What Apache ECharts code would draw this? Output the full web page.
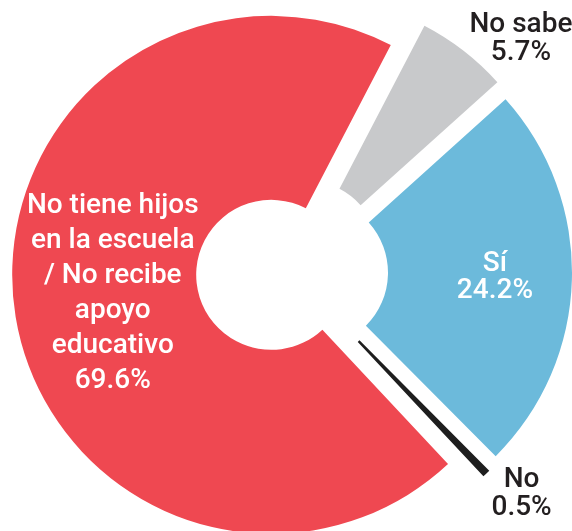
<!DOCTYPE html>
<html>
<head>
<meta charset="utf-8">
<script src="https://cdn.jsdelivr.net/npm/echarts@6/dist/echarts.min.js"></script>
<style>
html, body { margin: 0; padding: 0; background: #ffffff; }
#chart { width: 572px; height: 531px; }
</style>
</head>
<body>
<div id="chart"></div>
<script>
// Data
const categories = ['No sabe', 'Sí', 'No', 'No tiene hijos en la escuela / No recibe apoyo educativo'];
const labelNames = ['No sabe', 'Sí', 'No', 'No tiene hijos\nen la escuela\n/ No recibe\napoyo\neducativo'];
const values = [5.7, 24.2, 0.5, 69.6];

// Styles
const colors = ['#C8C9CB', '#6CBADB', '#1E1E1E', '#EF4851'];
const labelColors = ['#231F20', '#FFFFFF', '#231F20', '#FFFFFF'];
const lineHeights = [28, 27, 28, 35];
const labelShift = [[112, -82], [12, 0], [97, 85], [10, -4]];

const chart = echarts.init(document.getElementById('chart'), null, { renderer: 'canvas' });

const data = categories.map((c, i) => ({
  name: c,
  value: values[i],
  selected: true,
  itemStyle: { color: colors[i], borderWidth: 0 },
  label: {
    color: labelColors[i],
    lineHeight: lineHeights[i],
    formatter: labelNames[i] + '\n' + values[i].toFixed(1) + '%'
  }
}));

chart.setOption({
  animation: false,
  backgroundColor: '#ffffff',
  series: [{
    type: 'pie',
    center: [292, 272],
    radius: [75, 259],
    startAngle: 62.5,
    clockwise: true,
    selectedMode: 'multiple',
    selectedOffset: 21,
    avoidLabelOverlap: false,
    silent: true,
    itemStyle: { borderWidth: 0 },
    select: { itemStyle: { borderWidth: 0 } },
    emphasis: { disabled: true, scale: false },
    label: {
      show: true,
      position: 'inside',
      fontFamily: 'Roboto',
      fontSize: 28,
      fontWeight: 500,
      align: 'center',
      verticalAlign: 'middle'
    },
    labelLine: { show: false },
    labelLayout: function (params) {
      const s = labelShift[params.dataIndex];
      return { dx: s[0], dy: s[1] };
    },
    data: data
  }]
});
</script>
</body>
</html>
